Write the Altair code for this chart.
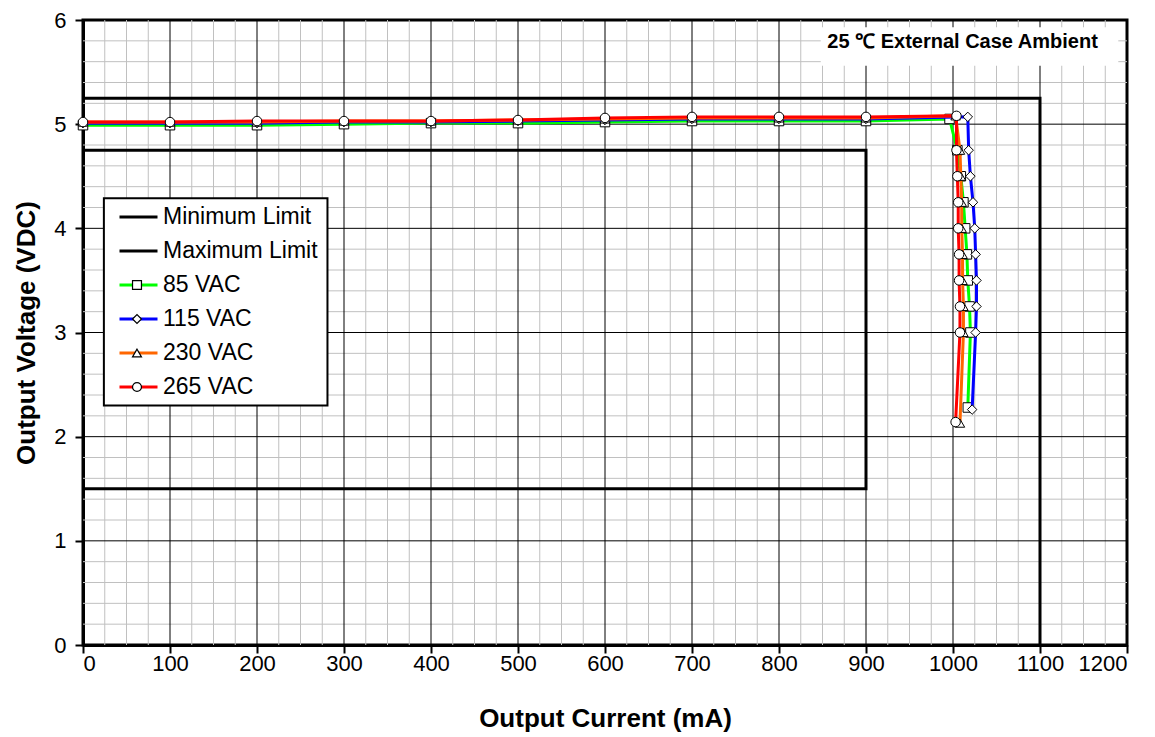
import altair as alt
import pandas as pd

# ---------------- data ----------------
series_names = ["Minimum Limit", "Maximum Limit", "85 VAC", "115 VAC", "230 VAC", "265 VAC"]
series_colors = ["#000000", "#000000", "#00ff00", "#0000ff", "#ff6600", "#ff0000"]
marker_keys = ["m-min", "m-max", "m-85", "m-115", "m-230", "m-265"]
marker_shapes = ["M0,0L0,0", "M0,0L0,0", "square", "diamond", "triangle-up", "circle"]
marker_fills = ["white"] * 6
marker_strokes = ["black"] * 6

min_limit_x = [0, 900, 900, 0]
min_limit_y = [4.75, 4.75, 1.5, 1.5]
max_limit_x = [0, 1100, 1100]
max_limit_y = [5.25, 5.25, 0]

x85 = [0, 100, 200, 300, 400, 500, 600, 700, 800, 900, 996, 1005, 1009, 1012, 1014, 1016, 1017, 1019, 1020, 1017]
y85 = [4.99, 4.99, 4.99, 5.00, 5.01, 5.01, 5.02, 5.03, 5.03, 5.03, 5.05, 4.75, 4.50, 4.25, 4.00, 3.75, 3.50, 3.25, 3.00, 2.28]

x115 = [0, 100, 200, 300, 400, 500, 600, 700, 800, 900, 1017, 1018, 1020, 1023, 1025, 1026, 1027, 1027, 1026, 1022]
y115 = [5.01, 5.01, 5.01, 5.02, 5.02, 5.03, 5.04, 5.05, 5.05, 5.05, 5.07, 4.75, 4.50, 4.25, 4.00, 3.75, 3.50, 3.25, 3.00, 2.26]

x230 = [0, 100, 200, 300, 400, 500, 600, 700, 800, 900, 1003, 1008, 1009, 1010, 1010, 1011, 1011, 1012, 1012, 1008]
y230 = [5.02, 5.02, 5.02, 5.03, 5.03, 5.04, 5.05, 5.06, 5.06, 5.06, 5.08, 4.75, 4.50, 4.25, 4.00, 3.75, 3.50, 3.25, 3.00, 2.13]

x265 = [0, 100, 200, 300, 400, 500, 600, 700, 800, 900, 1004, 1004, 1005, 1006, 1006, 1007, 1007, 1008, 1008, 1003]
y265 = [5.02, 5.02, 5.03, 5.03, 5.03, 5.04, 5.06, 5.07, 5.07, 5.07, 5.08, 4.75, 4.50, 4.25, 4.00, 3.75, 3.50, 3.25, 3.00, 2.14]

x_ticks = [0, 100, 200, 300, 400, 500, 600, 700, 800, 900, 1000, 1100, 1200]
y_ticks = [0, 1, 2, 3, 4, 5, 6]
minor_x = [v for v in range(25, 1200, 25) if v % 100 != 0]
major_x = [100, 200, 300, 400, 500, 600, 700, 800, 900, 1000, 1100]
minor_y = [round(0.2 * k, 1) for k in range(1, 30) if k % 5 != 0]
major_y = [1, 2, 3, 4, 5]

note_text = ["25 \u2103 External Case Ambient"]
note_x = [1011]
note_y = [5.79]
note_box_x = [848, 1190]
note_box_y = [5.56, 5.93]

legend_box_x = [24, 281]
legend_box_y = [2.30, 4.29]

FONT = "Liberation Sans"

# ---------------- tables ----------------
def make_df(k, xs, ys):
    return pd.DataFrame({"series": series_names[k], "s2": marker_keys[k],
                         "i": list(range(len(xs))), "x": xs, "y": ys})

df_min = make_df(0, min_limit_x, min_limit_y)
df_max = make_df(1, max_limit_x, max_limit_y)
vac = [
    make_df(2, x85, y85),
    make_df(3, x115, y115),
    make_df(4, x230, y230),
    make_df(5, x265, y265),
]

xscale = alt.Scale(domain=[0, 1200], nice=False, zero=False)
yscale = alt.Scale(domain=[0, 6], nice=False, zero=False)

x_axis = alt.Axis(
    values=x_ticks, format="d", title="Output Current (mA)", grid=False,
    domainColor="black", domainWidth=3, tickColor="black", tickSize=8, tickWidth=2,
    labelFont=FONT, labelFontSize=22, labelColor="black", labelPadding=0,
    titleFont=FONT, titleFontSize=26, titleFontWeight="bold", titleColor="black", titlePadding=31,
)
y_axis = alt.Axis(
    values=y_ticks, format="d", title="Output Voltage (VDC)", grid=False,
    domainColor="black", domainWidth=3, tickColor="black", tickSize=8, tickWidth=2,
    labelFont=FONT, labelFontSize=22, labelColor="black", labelPadding=9,
    titleFont=FONT, titleFontSize=26, titleFontWeight="bold", titleColor="black", titlePadding=14,
)

X = alt.X("x:Q", scale=xscale, axis=x_axis)
Y = alt.Y("y:Q", scale=yscale, axis=y_axis)

color_enc = alt.Color(
    "series:N",
    scale=alt.Scale(domain=series_names, range=series_colors),
    legend=alt.Legend(
        title=None, orient="none", legendX=21, legendY=166.5,
        symbolType="stroke", symbolSize=1444, symbolStrokeWidth=3,
        labelFont=FONT, labelFontSize=23, labelColor="black", labelOffset=4,
        labelLimit=500, rowPadding=1, padding=10, symbolOffset=4, zindex=1,
    ),
)

marker_legend = alt.Legend(
    title=None, orient="none", legendX=28.5, legendY=175.5,
    symbolSize=80, symbolStrokeWidth=1.2,
    labelFont=FONT, labelFontSize=23, labelColor="black", labelExpr="' '", labelOffset=4,
    labelLimit=500, rowPadding=10, padding=10, symbolOffset=4, zindex=2,
)
shape_enc = alt.Shape("s2:N", scale=alt.Scale(domain=marker_keys, range=marker_shapes), legend=marker_legend)
fill_enc = alt.Fill("s2:N", scale=alt.Scale(domain=marker_keys, range=marker_fills), legend=marker_legend)
stroke_enc = alt.Stroke("s2:N", scale=alt.Scale(domain=marker_keys, range=marker_strokes), legend=marker_legend)

# grid lines
grid_layers = [
    alt.Chart(pd.DataFrame({"x": minor_x})).mark_rule(color="#c0c0c0", strokeWidth=1).encode(x=X),
    alt.Chart(pd.DataFrame({"y": minor_y})).mark_rule(color="#c0c0c0", strokeWidth=1).encode(y=Y),
    alt.Chart(pd.DataFrame({"x": major_x})).mark_rule(color="black", strokeWidth=1).encode(x=X),
    alt.Chart(pd.DataFrame({"y": major_y})).mark_rule(color="black", strokeWidth=1).encode(y=Y),
]

def box(xs, ys, **kw):
    return alt.Chart(pd.DataFrame({"x": [xs[0]], "x2": [xs[1]], "y": [ys[0]], "y2": [ys[1]]})).mark_rect(
        **kw).encode(x=X, x2="x2:Q", y=Y, y2="y2:Q")

note_box = box(note_box_x, note_box_y, color="white")
legend_box = box(legend_box_x, legend_box_y, fill="white", stroke="black", strokeWidth=2)
note = alt.Chart(pd.DataFrame({"x": note_x, "y": note_y, "t": note_text})).mark_text(
    font=FONT, fontSize=20, fontWeight="bold", color="black", align="center", baseline="middle"
).encode(x=X, y=Y, text="t:N")

limit_layers = [
    alt.Chart(d).mark_line(strokeWidth=3).encode(x=X, y=Y, color=color_enc, order="i:Q")
    for d in (df_min, df_max)
]

series_layers = []
for d in vac:
    series_layers.append(
        alt.Chart(d).mark_line(strokeWidth=3).encode(x=X, y=Y, color=color_enc, order="i:Q")
    )
    series_layers.append(
        alt.Chart(d).mark_point(filled=True, strokeWidth=1, size=90, opacity=1).encode(
            x=X, y=Y, shape=shape_enc, fill=fill_enc, stroke=stroke_enc)
    )

chart = alt.layer(*grid_layers, note_box, note, legend_box, *limit_layers, *series_layers).properties(
    width=1044, height=625,
    autosize=alt.AutoSizeParams(type="none"),
    padding={"left": 75, "top": 12, "right": 20, "bottom": 90},
    background="white",
).configure_view(stroke="black", strokeWidth=3)

chart.save("out.html", embed_options={"renderer": "svg", "actions": False})
